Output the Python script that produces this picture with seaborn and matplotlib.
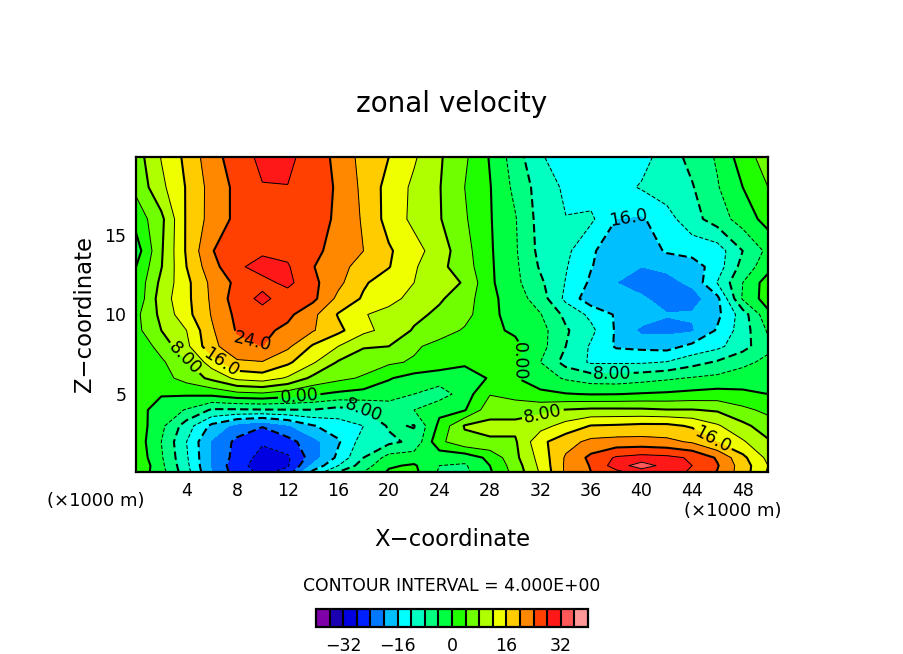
import numpy as np
import matplotlib
matplotlib.use("Agg")
import matplotlib.pyplot as plt
from matplotlib.colors import ListedColormap, BoundaryNorm
import seaborn as sns

# grid (km, ×1000 m)
x_km = [0, 2, 4, 6, 8, 10, 12, 14, 16, 18, 20, 22, 24, 26, 28, 30, 32, 34, 36, 38, 40, 42, 44, 46, 48, 50]
z_km = [0.1, 0.5, 1, 2, 3, 4, 5, 6, 7, 8, 9, 10, 11, 12, 13, 14, 16, 18, 19.9]

u_z01 = [3, -2.5, -10.5, -20, -26, -29, -26.5, -15, -8, -4, 0.5, 1, -4.5, -5, -0.5, 5.5, 12.5, 20.7, 24, 27, 30, 29.5, 27.5, 23.8, 18, 11.5]
u_z05 = [4, -3, -11, -20.5, -26.5, -30, -28.5, -19, -12, -6, -0.5, 0.5, -4, -4.5, 0, 6, 13, 20.7, 24.3, 30, 34, 30.5, 28, 24.3, 18, 12]
u_z1 = [3, -3.5, -11.5, -20.5, -25.5, -29.5, -28.6, -22, -15, -8, -2.5, -2, -2.5, -2.5, 1, 7, 13.5, 20.5, 25, 28.5, 29.5, 29, 27.5, 23.5, 17, 11]
u_z2 = [2.5, -4, -12, -20.5, -25, -27.5, -25.5, -21.5, -16.5, -10, -9, -7, 3, 7, 7.5, 7.5, 15, 18.5, 21, 21.5, 21.5, 21, 19.5, 15.8, 12.5, 8.5]
u_z3 = [2.5, -3, -10, -17, -21.5, -23.7, -20.5, -16.3, -14, -12, -7.5, -8.2, 1, 8.3, 9, 9, 10.5, 13.5, 16.2, 16.5, 17, 17, 15.5, 12.5, 9, 6]
u_z4 = [1.5, -1.7, -4.3, -8.5, -8.5, -8.3, -8.2, -8.1, -9.5, -8, -6.5, -4, -1, -0.3, 6.5, 6.5, 7, 8.2, 8.8, 8.8, 8.7, 8.2, 8.2, 7.5, 5, 3]
u_z5 = [0.5, 0.3, 0.5, 1, 2.8, 3.3, 2, 0.4, -0.8, -1.5, -2, -4, -6, -2, 3.8, 2.5, 0.8, 0.2, -0.2, -0.1, 0.3, 0.6, 1.1, 1.5, 0.8, 0]
u_z6 = [0, 2.5, 5.5, 9, 13, 14, 11.5, 7, 5, 3.5, 0.3, -1.5, -2, -3, 0.5, 0.2, -2, -4.5, -6, -6.3, -5.5, -4.6, -3.7, -3, -2, -1.5]
u_z7 = [0.3, 3.3, 7.5, 14, 19.5, 19.8, 16.8, 12.5, 7.6, 6, 4.7, 3.5, 2, 1, 0.5, 0.7, -4, -9.5, -12.5, -12.5, -12.5, -11.8, -9.5, -7.5, -5, -3]
u_z8 = [1, 5.5, 11, 19, 22.5, 24, 20.8, 15.5, 12, 8.3, 8, 4.7, 2.5, 1.5, 0.7, 0.8, -2.5, -8, -12.5, -16.5, -17, -17.5, -15, -13, -9.5, -5]
u_z9 = [2.8, 8, 12, 19.5, 24.4, 25, 23, 20.3, 17, 13, 10.7, 7.6, 6, 3.5, 0.7, -0.5, -2.5, -7.5, -11, -16.5, -21, -21, -20.5, -15.5, -10, -3.5]
u_z10 = [3, 9, 14.7, 20.3, 25, 26.5, 25, 21, 15.7, 12.2, 11, 9, 7.2, 5.5, 0.8, -1.3, -3.8, -9, -13, -16.5, -17.5, -19.8, -19.5, -17, -10, -1]
u_z11 = [1, 10, 15, 20.7, 26, 29, 26, 25, 19, 15.5, 13, 11, 8.5, 6, 1, -2, -6, -13, -18.5, -19.5, -19.5, -21.5, -22, -17, -3.5, 2]
u_z12 = [1, 9, 15, 21, 25, 26.8, 29, 25, 21, 16.5, 14, 12, 10, 7.6, 0.7, -3, -7.3, -12.2, -16.7, -20, -21.5, -21.5, -19, -11.8, -4, 2]
u_z13 = [0, 7.8, 16, 22.5, 27.3, 29.5, 28.4, 24.2, 21, 18.8, 16.2, 12.5, 9, 6, 0.6, -3.2, -8.5, -11.7, -15.8, -18.5, -20, -19, -18, -14, -6.5, -1.5]
u_z14 = [-2, 7.5, 16.5, 23.8, 26.5, 27.3, 27, 25, 22.5, 20, 16.5, 13.5, 10, 5.5, 0.5, -3.5, -9.2, -11, -15.5, -18, -18.5, -15.5, -14.5, -14, -8, -3]
u_z16 = [1.5, 7, 16.5, 21.5, 25, 26.5, 27, 26, 23.2, 19.5, 14.5, 11, 8.3, 4.5, 0.3, -3.7, -9.6, -11.9, -11.3, -16, -16.5, -13.5, -9.5, -6, -2.2, 1.5]
u_z18 = [5, 11, 16.3, 21.5, 25, 27.8, 27.9, 26, 23.5, 19, 14.6, 11.2, 8.2, 4, 0.2, -5, -9.8, -12.7, -14, -13.5, -11.6, -10, -8.3, -4.3, 0, 4]
u_z199 = [6, 12.2, 17, 22.5, 26, 29, 29, 26, 23, 18.5, 16, 12.5, 8.5, 4.7, -0.3, -6, -11.7, -13.5, -15, -15, -13.5, -10, -6.8, -3.5, 2, 6]

band_colors = ["#7f00a8", "#1a00b0", "#0000e0", "#0020ff", "#0078ff", "#00bfff", "#00ffff",
               "#00ffc0", "#00ff80", "#00ff40", "#20ff00", "#70ff00", "#b0ff00", "#f0ff00",
               "#ffcc00", "#ff8800", "#ff4000", "#ff1818", "#ff5858", "#ff9898"]
fill_levels = list(range(-40, 44, 4))
heavy_levels = [-24, -16, -8, 0, 8, 16, 24]
thin_levels = [-28, -12, -4, 4, 12, 20, 28, 32]
label_text = {-16: "16.0", -8: "8.00", 0: "0.00", 8: "8.00", 16: "16.0", 24: "24.0"}
label_spots = [(9.3, 8.4), (6.7, 7.0), (3.9, 7.3), (12.9, 5.0), (18.3, 4.3), (30.7, 7.0),
               (39.0, 15.8), (37.7, 6.4), (32.2, 3.7), (45.6, 2.1)]


def main():
    sns.set_theme(style="white")
    plt.rcParams["font.family"] = ["DejaVu Sans"]
    plt.rcParams["axes.unicode_minus"] = True

    u = np.array([u_z01, u_z05, u_z1, u_z2, u_z3, u_z4, u_z5, u_z6, u_z7, u_z8, u_z9, u_z10,
                  u_z11, u_z12, u_z13, u_z14, u_z16, u_z18, u_z199])
    cmap = ListedColormap(sns.color_palette(band_colors, len(band_colors)))
    norm = BoundaryNorm(fill_levels, cmap.N)

    fig = plt.figure(figsize=(9.04, 6.54), dpi=100, facecolor="white")
    ax = fig.add_axes([136 / 904, 1 - 472 / 654, 632 / 904, 315 / 654])

    filled = ax.contourf(x_km, z_km, u, levels=fill_levels, cmap=cmap, norm=norm, antialiased=False)
    ax.contour(x_km, z_km, u, levels=thin_levels, colors="black", linewidths=0.7,
               linestyles=[(0, (4, 2)) if v < 0 else "solid" for v in thin_levels])
    heavy = ax.contour(x_km, z_km, u, levels=heavy_levels, colors="black", linewidths=1.5,
                       linestyles=[(0, (4, 2)) if v < 0 else "solid" for v in heavy_levels])
    ax.clabel(heavy, fmt=label_text, fontsize=12.5, manual=label_spots, inline=True, inline_spacing=2)

    ax.set_xlim(0, 50)
    ax.set_ylim(0.1, 19.9)
    ax.set_xticks(range(4, 52, 4))
    ax.set_yticks([5, 10, 15])
    ax.set_yticks(range(1, 20), minor=True)
    ax.tick_params(axis="both", which="major", direction="in", length=7, width=1.2, top=True,
                   right=True, bottom=True, left=True, labelsize=12.5, colors="black", pad=7)
    ax.tick_params(axis="y", which="minor", direction="in", length=4, width=1, left=True, right=True)
    for side in ax.spines.values():
        side.set_linewidth(1.6)
        side.set_color("black")

    fig.text(452 / 904, 1 - 104 / 654, "zonal velocity", fontsize=20, ha="center", va="center", color="black")
    fig.text(452 / 904, 1 - 539 / 654, "X\u2212coordinate", fontsize=16.4, ha="center", va="center", color="black")
    fig.text(84 / 904, 1 - 314 / 654, "Z\u2212coordinate", fontsize=16.4, rotation=90, ha="center", va="center", color="black")
    fig.text(96 / 904, 1 - 501 / 654, "(\u00d71000 m)", fontsize=13, ha="center", va="center", color="black")
    fig.text(733 / 904, 1 - 511 / 654, "(\u00d71000 m)", fontsize=13, ha="center", va="center", color="black")
    fig.text(452 / 904, 1 - 586 / 654, "CONTOUR INTERVAL = 4.000E+00", fontsize=12.4, ha="center", va="center", color="black")

    cax = fig.add_axes([316 / 904, 1 - 627 / 654, 272 / 904, 18 / 654])
    cbar = fig.colorbar(filled, cax=cax, orientation="horizontal", drawedges=True, spacing="proportional")
    cbar.set_ticks([-32, -16, 0, 16, 32])
    cbar.ax.minorticks_off()
    cbar.ax.tick_params(which="both", length=0, labelsize=12.5, pad=7, colors="black")
    cbar.dividers.set_color("black")
    cbar.dividers.set_linewidth(1.5)
    cbar.outline.set_edgecolor("black")
    cbar.outline.set_linewidth(1.6)

    fig.savefig("out.png", dpi=100, facecolor="white")


if __name__ == "__main__":
    main()
